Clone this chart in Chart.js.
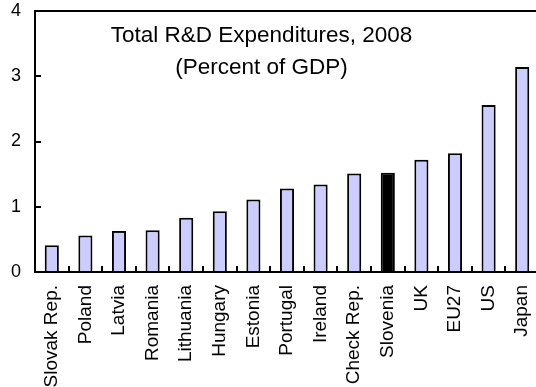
<!DOCTYPE html>
<html>
<head>
<meta charset="utf-8">
<script src="https://cdn.jsdelivr.net/npm/chart.js@4.4.0/dist/chart.umd.min.js"></script>
<style>
  html, body { margin: 0; padding: 0; background: #fff; overflow: hidden; }
  #wrap { position: relative; width: 558px; height: 387px; }
  #title {
    position: absolute; left: 0; top: 19px; width: 523px;
    text-align: center; color: #000;
    font-family: 'Liberation Sans', Arial, sans-serif; font-size: 22.5px; line-height: 32px;
  }
</style>
</head>
<body>
<div id="wrap">
  <canvas id="rd-chart" width="558" height="387"></canvas>
  <div id="title">Total R&amp;D Expenditures, 2008<br>(Percent of GDP)</div>
</div>
<script>
	/** 데이터 **/
	const countries = ['Slovak Rep.', 'Poland', 'Latvia', 'Romania', 'Lithuania', 'Hungary', 'Estonia',
		'Portugal', 'Ireland', 'Check Rep.', 'Slovenia', 'UK', 'EU27', 'US', 'Japan'];
	const rdShare = [0.41, 0.56, 0.63, 0.64, 0.83, 0.93, 1.11, 1.28, 1.34, 1.51, 1.52, 1.72, 1.82, 2.56, 3.14];
	const yTicks = [0, 1, 2, 3, 4];
	const highlight = 'Slovenia';

	/** 공통 부분 **/
	const fontFamily = "'Liberation Sans', Arial, sans-serif";
	const barColor = 'rgb(204, 204, 255)';
	const barColors = countries.map(c => c === highlight ? '#000' : barColor);

	/** 테두리 + 안쪽 눈금 **/
	const framePlugin = {
		id: 'frame',
		afterDatasetsDraw(chart) {
			const {ctx, chartArea: a, scales: {x, y}} = chart;
			ctx.save();
			ctx.strokeStyle = '#000';
			ctx.lineWidth = 2;
			ctx.strokeRect(a.left, a.top, a.right - a.left, a.bottom - a.top);
			ctx.beginPath();
			yTicks.forEach(v => {
				const py = Math.round(y.getPixelForValue(v));
				ctx.moveTo(a.left, py);
				ctx.lineTo(a.left + 6, py);
			});
			for (let i = 1; i < countries.length; i++) {
				const px = Math.round((x.getPixelForValue(i - 1) + x.getPixelForValue(i)) / 2);
				ctx.moveTo(px, a.bottom);
				ctx.lineTo(px, a.bottom - 6);
			}
			ctx.stroke();
			ctx.restore();
		}
	};

	let rdChart = new Chart(document.getElementById('rd-chart'), {
		type: 'bar',
		data: {
			labels: countries,
			datasets: [{
				data: rdShare,
				backgroundColor: barColors,
				borderColor: '#000',
				borderWidth: 2,
				barPercentage: 0.42,
				categoryPercentage: 1
			}]
		},
		options: {
			responsive: false,
			animation: false,
			devicePixelRatio: 1,
			layout: {padding: {top: 11, right: 0, left: 0, bottom: 0}},
			plugins: {legend: {display: false}, tooltip: {enabled: false}, title: {display: false}},
			scales: {
				x: {
					grid: {display: false, drawTicks: false},
					border: {display: false},
					ticks: {
						minRotation: 90, maxRotation: 90, autoSkip: false, padding: 13,
						color: '#000', font: {family: fontFamily, size: 19}
					},
					afterFit: s => { s.height = 115; }
				},
				y: {
					min: 0, max: 4,
					grid: {display: false, drawTicks: false},
					border: {display: false},
					ticks: {
						stepSize: 1, padding: 14,
						color: '#000', font: {family: fontFamily, size: 18}
					},
					afterFit: s => { s.width = 35; s.paddingTop = 0; s.paddingBottom = 0; }
				}
			}
		},
		plugins: [framePlugin]
	});
</script>
</body>
</html>
